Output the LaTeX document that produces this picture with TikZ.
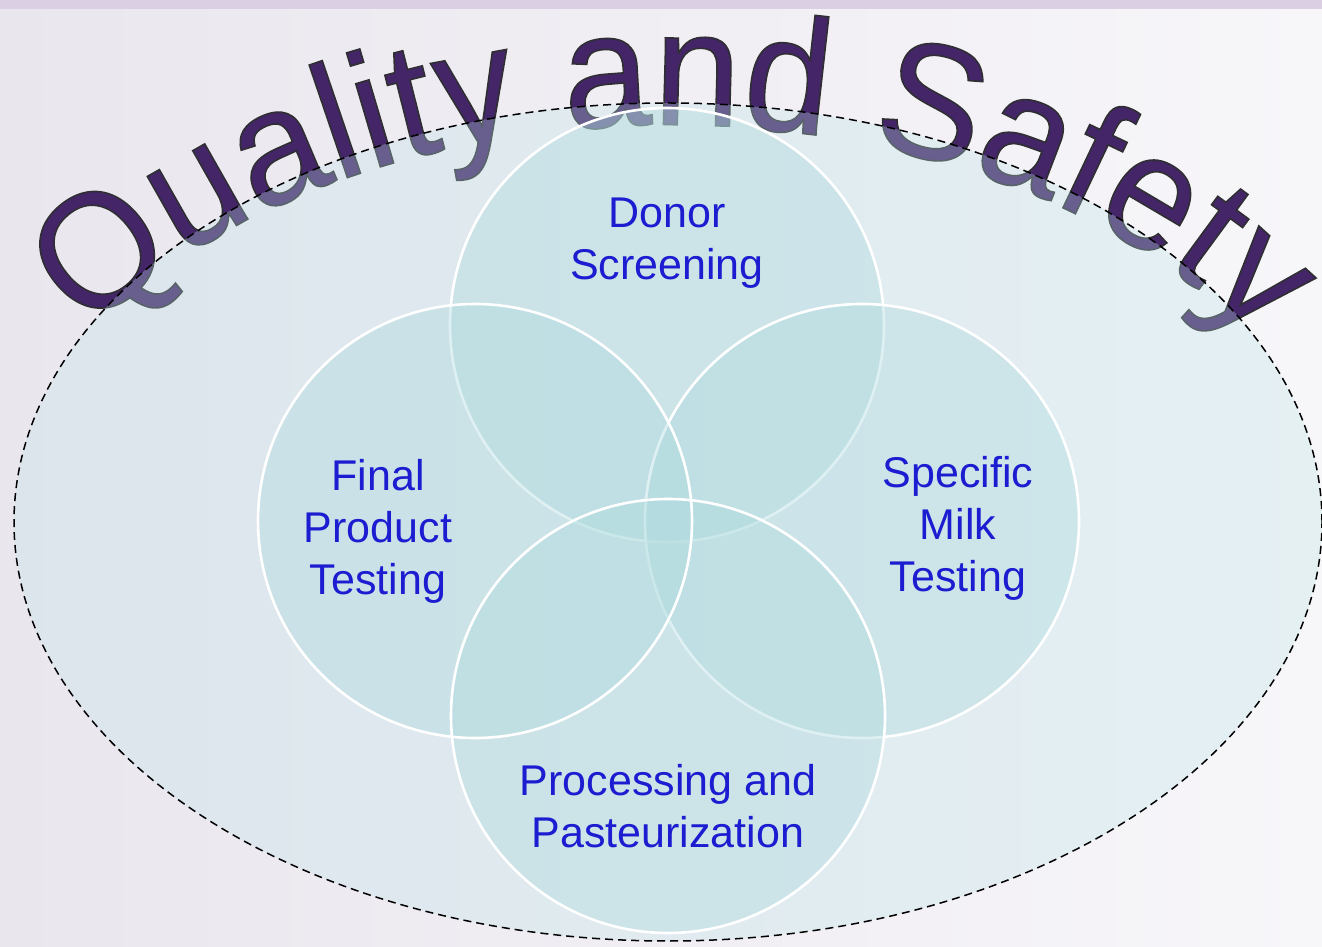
\documentclass[tikz,border=0pt]{standalone}
\usepackage{fontspec}
\setmainfont{Liberation Sans}
\newfontfamily\qfont[FakeStretch=0.953]{Liberation Sans}
\usetikzlibrary{decorations.text,calc}
\definecolor{bgL}{RGB}{234,230,238}
\definecolor{bgR}{RGB}{247,246,249}
\definecolor{band}{RGB}{218,207,227}
\definecolor{qpurple}{RGB}{68,38,104}
\definecolor{ellfill}{RGB}{188,228,232}
\definecolor{circfill}{RGB}{174,218,222}
\definecolor{lblue}{RGB}{28,28,208}
\newcommand{\qsoutline}{\special{pdf:literal direct 2 Tr 1.6 w 0.18 0.18 0.2 RG}}
\begin{document}
\begin{tikzpicture}[x=1pt,y=1pt,
  vcirc/.style={circle, minimum size=434pt, inner sep=0pt, fill=circfill, fill opacity=0.4},
  vborder/.style={draw=white, line width=2.6pt},
  lbl/.style={anchor=north, align=center, inner sep=0pt, text=lblue, font=\fontsize{43}{52}\selectfont},
  ringline/.style={draw=black, line width=1.5pt, dash pattern=on 8pt off 5pt},
]
% background
\shade[left color=bgL, right color=bgR] (0,0) rectangle (1322,946);
\useasboundingbox (0,0) rectangle (1322,946);
\fill[band] (0,937) rectangle (1322,946);

% curved title
\coordinate (qs) at ($(668,346)+(146:700 and 475)$);
\path[decorate, decoration={text along path, text align=left,
   text={|\qfont\fontsize{164}{170}\selectfont\color{qpurple}\qsoutline|Quality and Safety}}]
   (qs) arc[start angle=146, end angle=5, x radius=700, y radius=475];

% large ellipse
\path[fill=ellfill, fill opacity=0.3] (668,424) ellipse[x radius=654, y radius=419];
\draw[ringline] (668,424) ellipse[x radius=654, y radius=419];

% circles
\node[vcirc, vborder] (donor) at (667,621) {};
\node[vcirc, vborder] (milk) at (862,425) {};
\node[vcirc] (final) at (475,425) {};
\node[vcirc] (proc) at (668,230) {};
\draw[vborder] (final.center) circle[radius=217];
\draw[vborder] (proc.center) circle[radius=217];

% labels
\node[lbl] (tdonor) at (667,748) {Donor\\Screening};
\node[lbl] (tfinal) at (378,487) {Final\\Product\\Testing};
\node[lbl] (tmilk) at (958,490) {Specific\\Milk\\Testing};
\node[lbl] (tproc) at (668,182) {Processing and\\Pasteurization};
\end{tikzpicture}
\end{document}
